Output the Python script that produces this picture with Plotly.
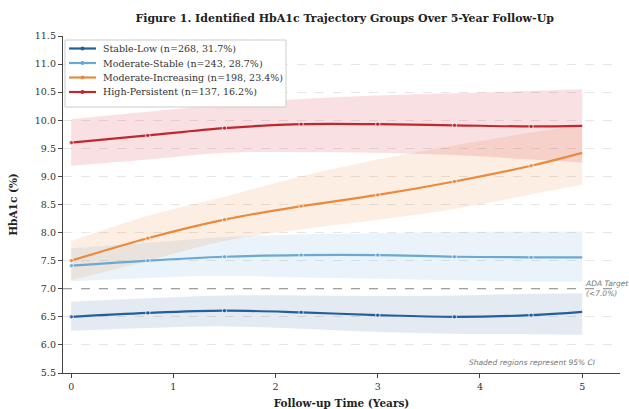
import plotly.graph_objects as go

# ---- data ----
years = [0, 0.75, 1.5, 2.25, 3, 3.75, 4.5, 5]

groups = ["Stable-Low (n=268, 31.7%)", "Moderate-Stable (n=243, 28.7%)",
          "Moderate-Increasing (n=198, 23.4%)", "High-Persistent (n=137, 16.2%)"]

stable_low = [6.50, 6.57, 6.61, 6.58, 6.53, 6.50, 6.53, 6.59]
stable_low_lo = [6.25, 6.30, 6.33, 6.29, 6.23, 6.20, 6.19, 6.18]
stable_low_hi = [6.77, 6.83, 6.88, 6.88, 6.87, 6.88, 6.91, 6.92]

mod_stable = [7.41, 7.50, 7.57, 7.60, 7.60, 7.57, 7.56, 7.56]
mod_stable_lo = [7.13, 7.19, 7.23, 7.20, 7.18, 7.15, 7.13, 7.13]
mod_stable_hi = [7.72, 7.82, 7.92, 7.97, 7.99, 8.01, 8.02, 8.02]

mod_incr = [7.50, 7.90, 8.23, 8.47, 8.67, 8.91, 9.19, 9.42]
mod_incr_lo = [7.15, 7.50, 7.85, 8.06, 8.23, 8.42, 8.68, 8.85]
mod_incr_hi = [7.85, 8.30, 8.64, 9.00, 9.30, 9.55, 9.78, 9.92]

high_pers = [9.60, 9.73, 9.86, 9.93, 9.93, 9.91, 9.89, 9.90]
high_pers_lo = [9.19, 9.30, 9.42, 9.43, 9.42, 9.38, 9.30, 9.25]
high_pers_hi = [10.02, 10.15, 10.28, 10.38, 10.44, 10.48, 10.52, 10.55]

y_ticks = [5.5, 6.0, 6.5, 7.0, 7.5, 8.0, 8.5, 9.0, 9.5, 10.0, 10.5, 11.0, 11.5]
x_ticks = [0, 1, 2, 3, 4, 5]
ada_target = 7.0

colors = ["#235f9c", "#6aa9d3", "#ea8a3c", "#c0282f"]
fills = ["rgba(35,95,156,0.13)", "rgba(106,169,211,0.14)",
         "rgba(234,138,60,0.15)", "rgba(220,60,75,0.16)"]

series = [
    (stable_low, stable_low_lo, stable_low_hi),
    (mod_stable, mod_stable_lo, mod_stable_hi),
    (mod_incr, mod_incr_lo, mod_incr_hi),
    (high_pers, high_pers_lo, high_pers_hi),
]

SERIF = "DejaVu Serif"
W, H = 629, 409
ML, MR, MT, MB = 63, 9, 36, 36
PW, PH = W - ML - MR, H - MT - MB


def px_x(px):
    return (px - ML) / PW


def px_y(py):
    return 1 - (py - MT) / PH


fig = go.Figure()

# CI bands
for (m, lo, hi), fc in zip(series, fills):
    fig.add_trace(go.Scatter(x=years, y=hi, mode="lines", line=dict(width=0, shape="spline"),
                             showlegend=False, hoverinfo="skip"))
    fig.add_trace(go.Scatter(x=years, y=lo, mode="lines", line=dict(width=0, shape="spline"),
                             fill="tonexty", fillcolor=fc, showlegend=False, hoverinfo="skip"))

# mean lines
msize = [4.5] * (len(years) - 1) + [0]
for (m, lo, hi), c, name in zip(series, colors, groups):
    fig.add_trace(go.Scatter(x=years, y=m, mode="lines+markers", name=name, showlegend=False,
                             line=dict(color=c, width=2.2, shape="spline"),
                             marker=dict(color=c, size=msize, symbol="circle")))

shapes = []
annotations = []

# ADA target line
shapes.append(dict(type="line", xref="paper", x0=0, x1=1, yref="y", y0=ada_target, y1=ada_target,
                   line=dict(color="#888888", width=1, dash="dash")))
annotations.append(dict(x=5.0, y=ada_target, xref="x", yref="y", text="<i>ADA Target<br>(<7.0%)</i>",
                        showarrow=False, xanchor="left", yanchor="middle", align="left", xshift=1,
                        font=dict(family="DejaVu Sans", size=7.5, color="#777777")))
annotations.append(dict(x=px_x(598), y=px_y(362), xref="paper", yref="paper",
                        text="<i>Shaded regions represent 95% CI</i>", showarrow=False,
                        xanchor="right", yanchor="middle",
                        font=dict(family="DejaVu Sans", size=7.5, color="#777777")))

# legend (drawn manually to match compact spacing)
shapes.append(dict(type="rect", xref="paper", yref="paper", x0=px_x(65), x1=px_x(286),
                   y0=px_y(107), y1=px_y(40), line=dict(color="#cccccc", width=1),
                   fillcolor="rgba(255,255,255,0.92)", layer="above"))
row_y = [48.5, 63, 77.5, 92]
for ry, c, name in zip(row_y, colors, groups):
    shapes.append(dict(type="line", xref="paper", yref="paper", x0=px_x(69), x1=px_x(96),
                       y0=px_y(ry), y1=px_y(ry), line=dict(color=c, width=2.2), layer="above"))
    shapes.append(dict(type="circle", xref="paper", yref="paper", x0=px_x(80.5), x1=px_x(84.5),
                       y0=px_y(ry + 2), y1=px_y(ry - 2), line=dict(color=c, width=0),
                       fillcolor=c, layer="above"))
    annotations.append(dict(x=px_x(101), y=px_y(ry), xref="paper", yref="paper", text=name,
                            showarrow=False, xanchor="left", yanchor="middle",
                            font=dict(family=SERIF, size=9.5, color="#333333")))

fig.update_layout(
    width=W, height=H,
    margin=dict(l=ML, r=MR, t=MT, b=MB),
    paper_bgcolor="white", plot_bgcolor="white",
    title=dict(text="<b>Figure 1. Identified HbA1c Trajectory Groups Over 5-Year Follow-Up</b>",
               x=0.548, xanchor="center", y=0.955, yanchor="middle",
               font=dict(family=SERIF, size=11, color="#222222")),
    font=dict(family=SERIF, size=9.5, color="#333333"),
    showlegend=False,
    shapes=shapes,
    annotations=annotations,
)
fig.update_xaxes(range=[-0.08, 5.37], tickvals=x_ticks, ticktext=[str(v) for v in x_ticks],
                 automargin=False,
                 showgrid=False, zeroline=False, showline=True, linecolor="#444444", linewidth=1.3,
                 ticks="outside", ticklen=4, tickcolor="#444444",
                 title=dict(text="<b>Follow-up Time (Years)</b>", font=dict(family=SERIF, size=10.5, color="#222222")))
fig.update_yaxes(range=[5.5, 11.5], tickvals=y_ticks, ticktext=[f"{v:.1f}" for v in y_ticks],
                 automargin=False,
                 showgrid=True, gridcolor="#e6e6e6", gridwidth=0.8, griddash="dash",
                 zeroline=False, showline=True, linecolor="#444444", linewidth=1.3,
                 ticks="outside", ticklen=4, tickcolor="#444444",
                 title=dict(text="<b>HbA1c (%)</b>", font=dict(family=SERIF, size=10.5, color="#222222")))

fig.write_html("out.html", config={"displayModeBar": False},
               post_script="document.body.style.margin='0';document.body.style.overflow='hidden';")
